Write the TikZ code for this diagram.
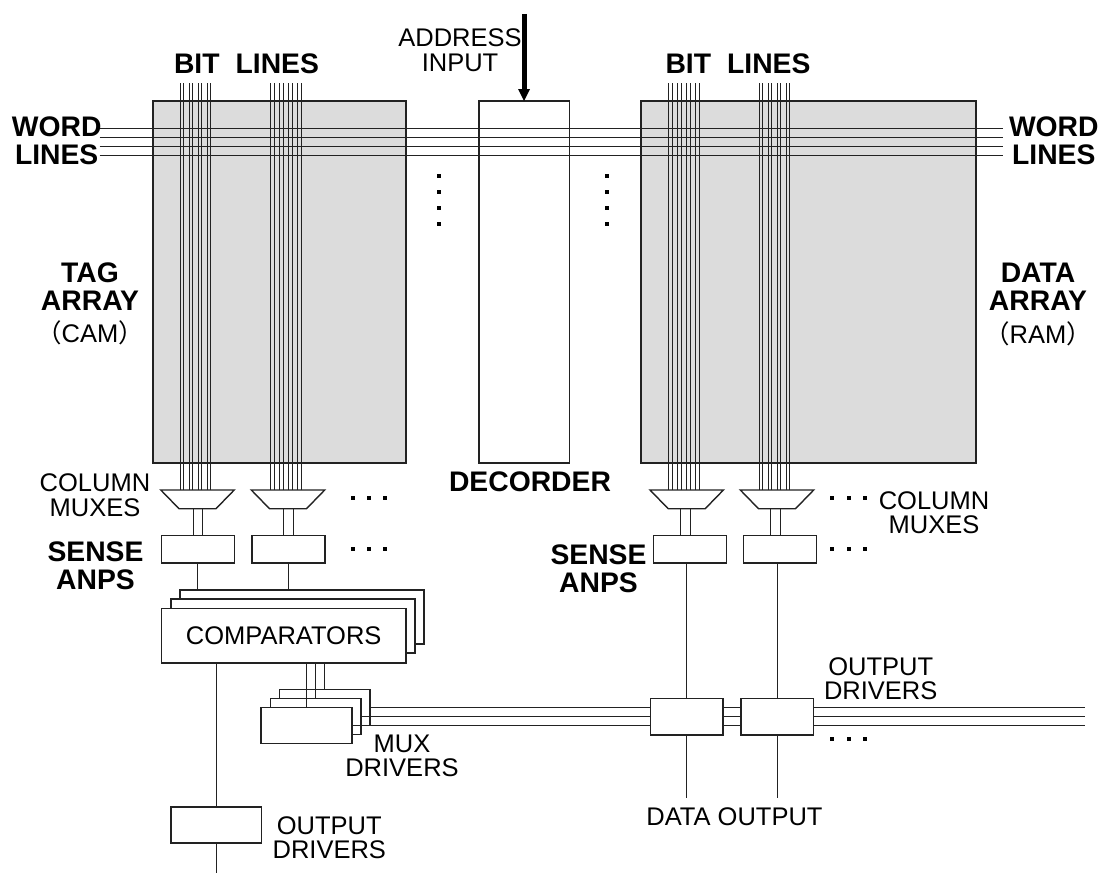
\documentclass[tikz,border=0pt]{standalone}
\usepackage{fontspec}
\setmainfont{Liberation Sans}
\newfontfamily\cjkfont{Noto Sans CJK JP}
\definecolor{ink}{HTML}{222222}
\definecolor{arrayfill}{HTML}{DCDCDC}
\tikzset{
  pbox/.style={draw=ink,fill=white,inner sep=0pt,outer sep=0pt,line width=1.5pt},
  arraybox/.style={pbox,fill=arrayfill,minimum width=253pt,minimum height=362pt},
  muxshape/.style={draw=ink,fill=white,line width=1.4pt,line join=miter},
  wire/.style={draw=ink,line width=1pt},
  lbl/.style={inner sep=0pt,outer sep=0pt,align=center,font=\fontsize{25.5}{24.5}\selectfont,text=black},
  blbl/.style={inner sep=0pt,outer sep=0pt,align=center,font=\fontsize{28.3}{28}\selectfont\bfseries,text=black},
}
\newcommand{\dotsq}[2]{\fill[black] (#1-2,#2-2) rectangle (#1+2,#2+2);}
\newcommand{\muxat}[2]{%
  \coordinate (#1n) at (#2,490);
  \coordinate (#1s) at (#2,508.7);
  \draw[muxshape] (#2-36.7,490) -- (#2+36.7,490) -- (#2+18.5,508.7) -- (#2-18.5,508.7) -- cycle;}
\begin{document}
\begin{tikzpicture}[x=1pt,y=-1pt]
\useasboundingbox (0,0) rectangle (1100,875);
% arrays and decoder
\node[arraybox] (tag) at (279.5,282) {};
\node[arraybox,minimum width=335pt] (data) at (808.5,282) {};
\node[pbox,minimum width=90.5pt,minimum height=362pt] (dec) at (524,282) {};
% mux, sense
\muxat{m1}{197.5}
\muxat{m2}{288}
\muxat{m3}{686.7}
\muxat{m4}{777}
\node[pbox,minimum width=73pt,minimum height=27.5pt] (s1) at (198,549.4) {};
\node[pbox,minimum width=73pt,minimum height=27.5pt] (s2) at (288.5,549.4) {};
\node[pbox,minimum width=73pt,minimum height=27.5pt] (s3) at (689.8,549.4) {};
\node[pbox,minimum width=73pt,minimum height=27.5pt] (s4) at (780,549.4) {};
% bit lines
\foreach \x in {180,183.5,189,192.5,198,201.5,207,210.5}{\draw[wire] (\x,83) -- (\x,83 |- m1n);}
\foreach \x in {270.5,274,279.5,283,288.5,292,297.5,301}{\draw[wire] (\x,83) -- (\x,83 |- m2n);}
\foreach \x in {668.5,672,677.5,681,686.5,690,695.5,699}{\draw[wire] (\x,83) -- (\x,83 |- m3n);}
\foreach \x in {759,762.5,768,771.5,777,780.5,786,789.5}{\draw[wire] (\x,83) -- (\x,83 |- m4n);}
% word lines
\foreach \y in {128.5,137.5,146.5,155.5}{\draw[wire] (99.5,\y) -- (1003,\y);}
% mux to sense
\draw[wire] (193.3,0 |- m1s) -- (193.3,0 |- s1.north);
\draw[wire] (202.7,0 |- m1s) -- (202.7,0 |- s1.north);
\draw[wire] (283.7,0 |- m2s) -- (283.7,0 |- s2.north);
\draw[wire] (293.3,0 |- m2s) -- (293.3,0 |- s2.north);
\draw[wire] (680.7,0 |- m3s) -- (680.7,0 |- s3.north);
\draw[wire] (690,0 |- m3s) -- (690,0 |- s3.north);
\draw[wire] (770.7,0 |- m4s) -- (770.7,0 |- s4.north);
\draw[wire] (780,0 |- m4s) -- (780,0 |- s4.north);
% comparators
\node[pbox,minimum width=244pt,minimum height=54pt] (c3) at (302,617) {};
\node[pbox,minimum width=244pt,minimum height=54pt] (c2) at (293,626) {};
\node[pbox,minimum width=244.5pt,minimum height=54.5pt,font=\fontsize{25.5}{24.5}\selectfont] (c1) at (283.7,635.5) {COMPARATORS};
\draw[wire] (197.7,0 |- s1.south) -- (197.7,0 |- c3.north);
\draw[wire] (288,0 |- s2.south) -- (288,0 |- c3.north);
% output driver left
\node[pbox,minimum width=90.5pt,minimum height=36pt] (o1) at (216,825) {};
\coordinate (oe) at (216,873);
\draw[wire] (c1.south -| o1.north) -- (o1.north);
\draw[wire] (o1.south) -- (oe);
% data horizontal lines and mux drivers
\coordinate (hl1) at (1085,707.7);
\coordinate (hl2) at (1085,716.7);
\coordinate (hl3) at (1085,725.7);
\node[pbox,minimum width=90.7pt,minimum height=36pt] (d3) at (324.7,707.7) {};
\node[pbox,minimum width=90.7pt,minimum height=36pt] (d2) at (315.7,716.7) {};
\node[pbox,minimum width=90.7pt,minimum height=36pt] (d1) at (306.4,725.7) {};
\draw[wire] (d3.east |- hl1) -- (hl1);
\draw[wire] (d2.east |- hl2) -- (hl2);
\draw[wire] (d1.east |- hl3) -- (hl3);
\draw[wire] (306.3,0 |- c1.south) -- (306.3,0 |- d1.north);
\draw[wire] (315.3,0 |- c1.south) -- (315.3,0 |- d2.north);
\draw[wire] (324.3,0 |- c1.south) -- (324.3,0 |- d3.north);
% right output drivers
\node[pbox,minimum width=72.5pt,minimum height=36.3pt] (o2) at (686.5,716.8) {};
\node[pbox,minimum width=72.5pt,minimum height=36.3pt] (o3) at (777,716.8) {};
\coordinate (e2) at (686.7,798);
\coordinate (e3) at (777,798);
\draw[wire] (e2 |- s3.south) -- (e2 |- o2.north);
\draw[wire] (e3 |- s4.south) -- (e3 |- o3.north);
\draw[wire] (e2 |- o2.south) -- (e2);
\draw[wire] (e3 |- o3.south) -- (e3);
% arrow
\coordinate (ain) at (524,14);
\draw[black,line width=5pt] (ain) -- (524,90);
\fill[black] (518,89) -- (530,89) -- (dec.north) -- cycle;
% dots
\foreach \y in {176,192,208,224}{\dotsq{439}{\y}\dotsq{607}{\y}}
\foreach \x in {352.7,368.7,385}{\dotsq{\x}{497.7}\dotsq{\x}{548.7}}
\foreach \x in {832,848.5,865}{\dotsq{\x}{497.7}\dotsq{\x}{548.7}\dotsq{\x}{738.7}}
% labels
\node[lbl] (addr) at (460,50) {ADDRESS\\INPUT};
\node[blbl] (bl1) at (246.5,64) {BIT\hspace{16pt}LINES};
\node[blbl] (bl2) at (738,64) {BIT\hspace{16pt}LINES};
\node[blbl] (wl1) at (56.7,140.5) {WORD\\LINES};
\node[blbl] (wl2) at (1053.8,140.5) {WORD\\LINES};
\node[blbl] (ta) at (90,286.5) {TAG\\ARRAY};
\node[lbl] (cam) at (90,333) {{\cjkfont （}CAM{\cjkfont ）}};
\node[blbl] (da) at (1038,287) {DATA\\ARRAY};
\node[lbl] (ram) at (1038,334) {{\cjkfont （}RAM{\cjkfont ）}};
\node[blbl] (dl) at (530,482) {DECORDER};
\node[lbl] (cm1) at (95,495) {COLUMN\\MUXES};
\node[lbl] (cm2) at (934,512.5) {COLUMN\\MUXES};
\node[blbl] (sa1) at (95.5,566) {SENSE\\ANPS};
\node[blbl] (sa2) at (598.5,569) {SENSE\\ANPS};
\node[lbl] (md) at (402,756) {MUX\\DRIVERS};
\node[lbl] (od1) at (329.3,837.5) {OUTPUT\\DRIVERS};
\node[lbl] (od2) at (880.7,678.5) {OUTPUT\\DRIVERS};
\node[lbl] (dout) at (734.5,817) {DATA OUTPUT};
\end{tikzpicture}
\end{document}
